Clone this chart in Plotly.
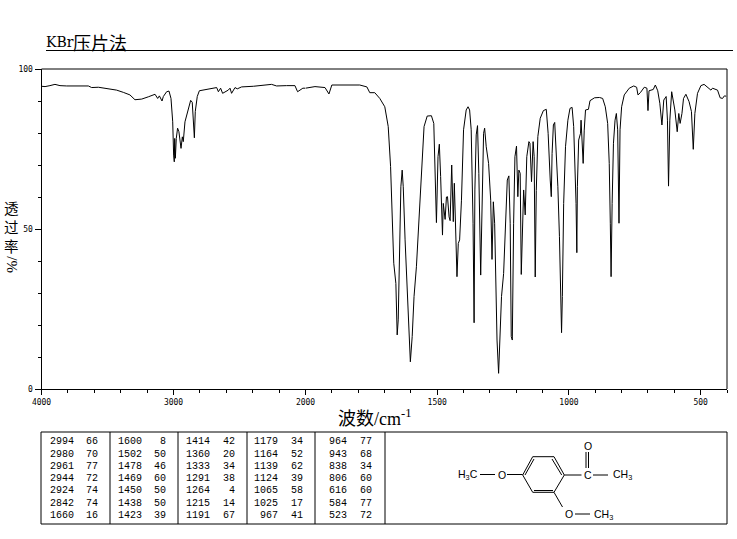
import plotly.graph_objects as go

W, H = 737, 539

# Spectrum: 4000-2000 cm-1 part (compressed scale)
wn_high = [4000,3973,3936,3898,3860,3809,3645,3620,3569,3506,3431,3380,3330,3292,3241,3191,3140,3120,3107,3087,3077,3052,3034,3019,3006,2999,2994,2991,2986,2979,2969,2959,2943,2933,2926,2913,2888,2870,2858,2850,2842,2835,2820,2804,2736,2673,2660,2643,2628,2585,2572,2560,2534,2517,2484,2395,2257,2219,2143,2080,2060,2042,2020,2000]
t_high = [94.6,94.5,94.8,95.2,94.8,94.7,94.7,94.2,94.3,93.9,93.4,92.7,91.9,90.4,90.6,91.3,92.1,90.8,91.6,90.0,91.4,92.9,93.1,90.8,83.5,73.1,71.0,78.3,72.1,78.3,81.5,80.4,75.2,78.8,77.3,83.5,87.7,90.2,89.6,82.5,78.5,86.7,91.4,93.2,93.7,94.2,92.9,94.0,92.4,93.4,94.0,92.4,94.2,93.8,94.4,94.6,95.2,94.7,94.8,94.8,92.9,93.4,94.0,94.0]

# Spectrum: 2000-400 cm-1 part
wn_low = [2000,1964,1926,1911,1900,1794,1767,1756,1737,1718,1699,1686,1677,1670,1665,1657,1652,1648,1642,1638,1633,1629,1622,1614,1607,1602,1595,1588,1579,1570,1560,1550,1538,1522,1513,1507,1503,1497,1492,1487,1480,1477,1470,1465,1461,1455,1451,1445,1439,1435,1430,1425,1420,1415,1408,1400,1390,1383,1377,1371,1364,1360,1357,1352,1347,1342,1335,1329,1324,1320,1314,1305,1297,1292,1287,1282,1277,1273,1267,1262,1256,1248,1242,1234,1228,1223,1219,1215,1210,1205,1199,1194,1190,1185,1181,1176,1172,1166,1160,1152,1148,1142,1136,1132,1128,1124,1118,1109,1097,1086,1079,1071,1067,1064,1059,1054,1049,1042,1036,1031,1028,1025,1020,1013,1004,996,988,982,977,973,970,968,963,956,954,946,942,937,926,920,903,884,872,862,853,847,843,840,836,831,825,820,815,810,806,800,790,771,754,743,738,729,714,704,700,696,680,672,663,655,647,640,631,626,622,617,610,604,598,589,583,578,571,565,556,544,535,528,522,512,499,487,461,455,436,426,417,410,403]
t_low = [94.0,94.5,94.2,92.2,95.0,95.0,94.4,92.6,92.6,90.8,88.2,82.0,69.5,51.8,39.3,33.0,16.9,21.6,51.8,63.2,68.4,63.2,46.6,30.9,17.4,8.5,16.4,28.9,38.2,51.8,69.5,82.0,85.3,85.4,83.0,64.3,52.0,72.6,76.5,66.4,48.1,58.0,53.0,60.0,60.1,53.8,52.6,70.0,52.3,64.3,51.8,35.1,45.5,46.6,59.0,81.0,87.2,88.2,87.2,81.0,51.8,20.7,62.2,79.4,82.3,67.4,35.6,67.4,79.9,81.5,75.7,70.5,59.0,40.5,58.5,51.8,30.9,15.3,4.9,14.3,28.9,36.1,51.8,65.3,66.6,51.8,16.4,15.3,51.8,72.6,75.9,60.1,68.4,67.4,35.8,51.8,62.2,54.4,72.6,77.3,76.8,64.8,77.3,72.6,35.0,62.0,78.9,84.6,87.0,87.4,79.9,65.3,60.1,73.6,82.5,83.3,75.7,63.2,47.6,28.9,17.6,28.9,58.0,75.7,84.0,87.7,88.0,82.0,71.6,58.0,42.6,63.2,77.8,79.9,84.0,70.5,80.9,87.2,87.4,90.1,91.0,91.1,90.8,88.2,83.0,70.5,51.8,35.1,58.0,76.8,84.0,86.1,81.0,51.8,81.0,88.2,91.9,94.0,94.7,94.3,91.9,92.6,94.3,94.0,87.0,93.2,93.6,95.0,93.2,89.3,82.5,90.3,91.4,84.0,63.4,84.0,92.9,90.3,87.2,80.4,86.1,83.0,86.1,90.8,92.1,89.8,86.7,74.9,86.1,92.4,94.8,95.2,93.4,94.0,93.4,91.0,90.8,91.6,91.5]

# Peak table (columns of wavenumber / transmittance)
peak_wn = [
    ["2994","2980","2961","2944","2924","2842","1660"],
    ["1600","1502","1478","1469","1450","1438","1423"],
    ["1414","1360","1333","1291","1264","1215","1191"],
    ["1179","1164","1139","1124","1065","1025","967"],
    ["964","943","838","806","616","584","523"],
]
peak_t = [
    ["66","70","77","72","74","74","16"],
    ["8","50","46","60","50","50","39"],
    ["42","20","34","38","4","14","67"],
    ["34","52","62","39","58","17","41"],
    ["77","68","34","60","60","77","72"],
]
x_ticks_high = [4000, 3000, 2000]
x_ticks_low = [1500, 1000, 500]
y_ticks = [0, 50, 100]

L, M, R, T, B = 41.5, 305.5, 727.0, 69.0, 389.0
px = lambda v: v / W
py = lambda v: 1 - v / H

fig = go.Figure()
line = dict(color="black", width=1)
fig.add_trace(go.Scatter(x=wn_high, y=t_high, mode="lines", line=line, xaxis="x", yaxis="y", showlegend=False))
fig.add_trace(go.Scatter(x=wn_low, y=t_low, mode="lines", line=line, xaxis="x2", yaxis="y", showlegend=False))

tf = dict(family="DejaVu Sans Mono", size=8, color="black")
common = dict(showgrid=False, zeroline=False, showline=True, linecolor="black", linewidth=1,
              ticks="outside", ticklen=5, tickcolor="black", tickfont=tf, anchor="y")
fig.update_layout(
    width=W, height=H, margin=dict(l=0, r=0, t=0, b=0, autoexpand=False),
    paper_bgcolor="white", plot_bgcolor="white",
    font=dict(family="Liberation Mono, Noto Sans CJK SC", color="black"),
    xaxis=dict(domain=[px(L), px(M)], range=[4000, 2000], tickmode="array", tickvals=x_ticks_high,
               minor=dict(dtick=200, ticks="outside", ticklen=3, tickcolor="black", showgrid=False), **common),
    xaxis2=dict(domain=[px(M), px(R)], range=[2000, 400], tickmode="array", tickvals=x_ticks_low,
                minor=dict(dtick=100, ticks="outside", ticklen=3, tickcolor="black", showgrid=False), **common),
    yaxis=dict(domain=[py(B), py(T)], range=[0, 100], anchor="x", tickmode="array", tickvals=y_ticks,
               showgrid=False, zeroline=False, showline=True, linecolor="black", linewidth=1,
               ticks="outside", ticklen=6, tickcolor="black", tickfont=tf,
               minor=dict(dtick=10, ticks="outside", ticklen=3, tickcolor="black", showgrid=False)),
)

shapes = []
def seg(x0, y0, x1, y1):
    shapes.append(dict(type="line", xref="paper", yref="paper", x0=px(x0), y0=py(y0), x1=px(x1), y1=py(y1),
                       line=dict(color="black", width=1)))

seg(L, T, R, T)          # plot frame top
seg(R, T, R, B)          # plot frame right
seg(46, 50.5, 733, 50.5) # header rule
# table frame
seg(41, 432, 727, 432); seg(41, 524, 727, 524)
for xv in [41, 110, 178, 247, 315, 385, 727]:
    seg(xv, 432, xv, 524)

# molecule bonds
ring = [(522.7,475),(532.7,456.7),(554,456.7),(564.3,475),(554,492.3),(532.7,492.3)]
for i in range(6):
    a, b = ring[i], ring[(i + 1) % 6]
    seg(a[0], a[1], b[0], b[1])
for b in [(525,475,534,459),(552,459,561.7,475),(534,490.5,553,490.5),
          (480,474.5,495,474.5),(507,474.5,522.7,474.5),(564.3,475,581.5,475),(593,475,608,475),
          (586,468,586,452),(588.5,468,588.5,452),(554,492.3,562.5,507),(575,514,590,514)]:
    seg(*b)
fig.update_layout(shapes=shapes)

def txt(x, y, s, size=10, fam="Liberation Mono", xa="center", angle=0):
    fig.add_annotation(x=px(x), y=py(y), xref="paper", yref="paper", text=s, showarrow=False,
                       xanchor=xa, yanchor="middle", textangle=angle, borderpad=0,
                       font=dict(family=fam, size=size, color="black"))

# headings
cjk = "Noto Sans CJK SC"
txt(45, 42, "KBr", 14, "DejaVu Serif", "left")
txt(72, 42, "压片法", 18, cjk, "left")
txt(337, 417, "波数/cm<sup>-1</sup>", 18, "Liberation Serif, " + cjk, "left")
txt(12, 226, "透<br>过<br>率", 14.5, cjk)
txt(12, 264, "%/", 15, "Liberation Serif", angle=-90)

# table text
rows = [441.7, 454, 466, 478.3, 490.7, 503.3, 515.7]
wn_right = [75, 143, 211, 279, 348]
t_right = [99, 167, 236, 304, 373]
for c in range(5):
    for r in range(7):
        txt(wn_right[c], rows[r], peak_wn[c][r], 10, "Liberation Mono", "right")
        txt(t_right[c], rows[r], peak_t[c][r], 10, "Liberation Mono", "right")

# molecule labels
txt(468, 475, "H<sub>3</sub>C", 10.5, "Liberation Sans")
txt(502, 474.5, "O", 10.5, "Liberation Sans")
txt(588, 475, "C", 10.5, "Liberation Sans")
txt(622, 475, "CH<sub>3</sub>", 10.5, "Liberation Sans")
txt(588, 446, "O", 10.5, "Liberation Sans")
txt(569, 514, "O", 10.5, "Liberation Sans")
txt(603, 515, "CH<sub>3</sub>", 10.5, "Liberation Sans")

fig.write_html("out.html", config={"displayModeBar": False}, post_script="document.body.style.margin='0';")
